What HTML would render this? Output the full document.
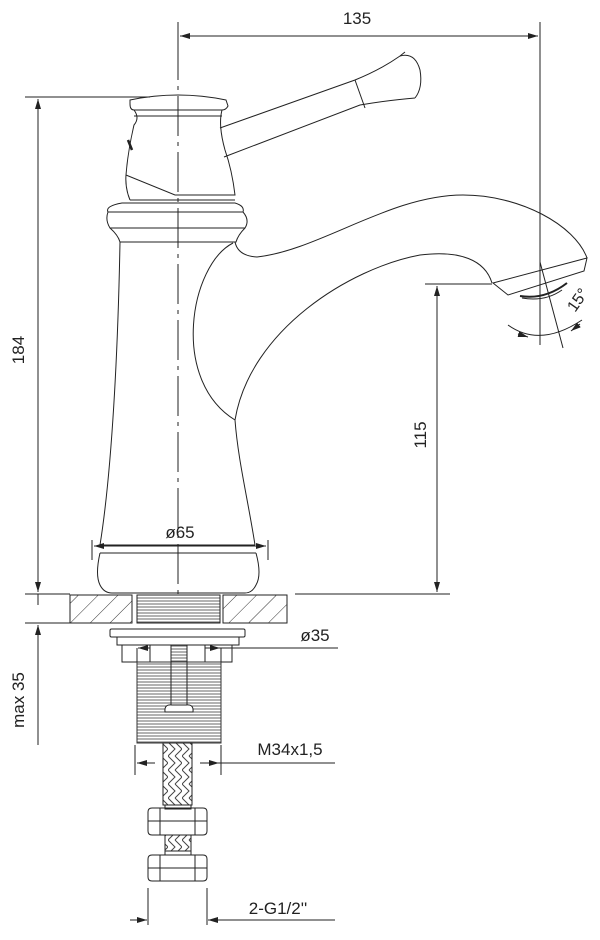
<!DOCTYPE html>
<html><head><meta charset="utf-8"><style>
html,body{margin:0;padding:0;background:#fff;}
svg{display:block;}
text{font-family:"Liberation Sans",sans-serif;fill:#222;}
</style></head><body>
<svg width="600" height="940" viewBox="0 0 600 940" xmlns="http://www.w3.org/2000/svg">
<defs>
<marker id="a" viewBox="0 0 10 6" refX="10" refY="3" markerWidth="10" markerHeight="6" orient="auto-start-reverse"><path d="M0,0 L10,3 L0,6 z" fill="#222"/></marker>
<pattern id="hatch" patternUnits="userSpaceOnUse" width="14" height="14" patternTransform="rotate(45)"><line x1="0" y1="0" x2="0" y2="14" stroke="#333" stroke-width="1"/></pattern>
<pattern id="thr" patternUnits="userSpaceOnUse" width="4" height="3"><line x1="0" y1="1" x2="4" y2="1" stroke="#666" stroke-width="1"/></pattern>
<pattern id="braid" patternUnits="userSpaceOnUse" width="14" height="14"><path d="M0,0 L7,7 L0,14 M7,0 L14,7 L7,14" stroke="#444" fill="none" stroke-width="1"/></pattern>
</defs>
<g stroke="#222" stroke-width="1" fill="none">
<line x1="178" y1="22" x2="178" y2="40"/>
<line x1="540" y1="22" x2="540" y2="345"/>
<line x1="180" y1="36" x2="538" y2="36" marker-start="url(#a)" marker-end="url(#a)"/>
<line x1="25" y1="97" x2="150" y2="97"/>
<line x1="25" y1="594" x2="70" y2="594"/>
<line x1="38" y1="99" x2="38" y2="592" marker-start="url(#a)" marker-end="url(#a)"/>
<line x1="25" y1="623" x2="70" y2="623"/>
<line x1="38" y1="605" x2="38" y2="594"/>
<line x1="38" y1="625" x2="38" y2="745" marker-start="url(#a)"/>
<line x1="425" y1="284" x2="492" y2="284"/>
<line x1="437" y1="286" x2="437" y2="592" marker-start="url(#a)" marker-end="url(#a)"/>
<line x1="178" y1="40" x2="178" y2="600" stroke-dasharray="40,6,4,6"/>
<path d="M130,100 Q178,90 226,100 L228,106 Q226,110 222,110 L134,110 Q130,110 130,104 Z"/>
<line x1="134" y1="116" x2="222" y2="116"/>
<path d="M134,110 Q140,118 134,125 Q128,150 126,175 L175,195 L235,195 Q232,170 225,150 Q218,125 222,110"/>
<path d="M126,175 Q125,188 130,200"/>
<path d="M128,140 L132,150" stroke-width="2.5"/>
<line x1="130" y1="200" x2="235" y2="200"/>
<path d="M220,128 L355,80 Q380,70 400,56 L405,52"/>
<path d="M224,157 L360,105 Q390,100 415,98"/>
<path d="M355,80 L365,108"/>
<path d="M400,56 Q415,52 420,70 Q423,88 415,98"/>
<path d="M122,203 L235,203 Q245,206 243,212 L108,212 Q105,206 122,203 Z"/>
<path d="M108,212 Q105,220 110,228 L245,228 Q250,220 243,212"/>
<path d="M110,228 Q118,235 120,242 L236,242 Q238,235 245,228"/>
<path d="M120,242 C118,350 112,470 100,545"/>
<path d="M235,242 Q238,256 257,257 C320,250 390,195 463,195 C520,195 575,225 587,258"/>
<path d="M233,243 C190,265 170,380 235,420"/>
<path d="M255,545 C248,500 238,460 235,420 C250,330 350,268 420,255 C460,250 485,260 492,283"/>
<path d="M587,258 L493,283 L508,295 L584,271 Z"/>
<path d="M520,296 Q545,300 567,283" stroke-width="2"/>
<path d="M522,298 Q545,302 562,290"/>
<path d="M540,262 L563,348"/>
<path d="M508,325 Q540,348 582,320"/>
<path d="M518,334 L528,337" marker-end="url(#a)"/>
<path d="M580,324 L571,331" marker-end="url(#a)"/>
<line x1="100" y1="545" x2="255" y2="545"/>
<path d="M100,553 L256,553"/>
<path d="M100,553 Q95,575 100,585 Q104,593 112,593 L245,593 Q252,593 256,585 Q262,575 256,553"/>
<line x1="92" y1="540" x2="92" y2="560"/>
<line x1="268" y1="540" x2="268" y2="560"/>
<line x1="94" y1="546" x2="266" y2="546" marker-start="url(#a)" marker-end="url(#a)"/>
<rect x="70" y="595" width="62" height="28" fill="url(#hatch)"/>
<rect x="223" y="595" width="64" height="28" fill="url(#hatch)"/>
<rect x="137" y="595" width="83" height="28" fill="url(#thr)"/>
<line x1="295" y1="594" x2="450" y2="594"/>
<rect x="110" y="629" width="135" height="8" rx="1.5"/>
<rect x="117" y="637" width="122" height="8"/>
<rect x="122" y="645" width="110" height="17"/>
<line x1="150" y1="645" x2="150" y2="662"/>
<line x1="205" y1="645" x2="205" y2="662"/>
<rect x="137" y="662" width="84" height="81" fill="url(#thr)" stroke="#333"/>
<rect x="171" y="645" width="16" height="62" fill="url(#thr)"/>
<path d="M165,712 Q164,704 172,705 L186,705 Q194,704 193,712 Z" fill="#fff"/>
<line x1="137" y1="648" x2="137" y2="662"/>
<line x1="221" y1="648" x2="221" y2="662"/>
<line x1="150" y1="648" x2="138" y2="648" marker-end="url(#a)"/>
<line x1="205" y1="648" x2="220" y2="648" marker-end="url(#a)"/>
<line x1="220" y1="648" x2="338" y2="648"/>
<rect x="163" y="743" width="29" height="62" fill="url(#braid)"/>
<rect x="165" y="805" width="26" height="4"/>
<path d="M148,812 Q148,808 152,808 L203,808 Q207,808 207,812 L207,831 Q207,835 203,835 L152,835 Q148,835 148,831 Z"/>
<line x1="160" y1="808" x2="160" y2="835"/><line x1="195" y1="808" x2="195" y2="835"/>
<line x1="148" y1="821" x2="207" y2="821"/>
<rect x="165" y="835" width="26" height="16" fill="url(#braid)"/>
<rect x="165" y="851" width="26" height="4"/>
<path d="M148,859 Q148,855 152,855 L203,855 Q207,855 207,859 L207,877 Q207,881 203,881 L152,881 Q148,881 148,877 Z"/>
<line x1="160" y1="855" x2="160" y2="881"/><line x1="195" y1="855" x2="195" y2="881"/>
<line x1="148" y1="868" x2="207" y2="868"/>
<line x1="135" y1="745" x2="135" y2="775"/>
<line x1="221" y1="745" x2="221" y2="775"/>
<line x1="137" y1="763" x2="155" y2="763" marker-start="url(#a)"/>
<line x1="200" y1="763" x2="219" y2="763" marker-end="url(#a)"/>
<line x1="219" y1="763" x2="335" y2="763"/>
<line x1="148" y1="888" x2="148" y2="925"/>
<line x1="207" y1="888" x2="207" y2="925"/>
<line x1="130" y1="920" x2="147" y2="920" marker-end="url(#a)"/>
<line x1="225" y1="920" x2="208" y2="920" marker-end="url(#a)"/>
<line x1="208" y1="920" x2="335" y2="920"/>
</g>
<text x="357" y="24" font-size="17" text-anchor="middle">135</text>
<text x="180" y="538" font-size="17" text-anchor="middle">ø65</text>
<text x="315" y="641" font-size="17" text-anchor="middle">ø35</text>
<text x="290" y="755" font-size="17" text-anchor="middle">M34x1,5</text>
<text x="278" y="914" font-size="17" text-anchor="middle">2-G1/2''</text>
<text font-size="17" text-anchor="middle" transform="translate(24,350) rotate(-90)">184</text>
<text font-size="17" text-anchor="middle" transform="translate(24,700) rotate(-90)">max 35</text>
<text font-size="17" text-anchor="middle" transform="translate(426,435) rotate(-90)">115</text>
<text font-size="16" text-anchor="middle" transform="translate(582,303) rotate(-55)">15°</text>
</svg>
</body></html>
